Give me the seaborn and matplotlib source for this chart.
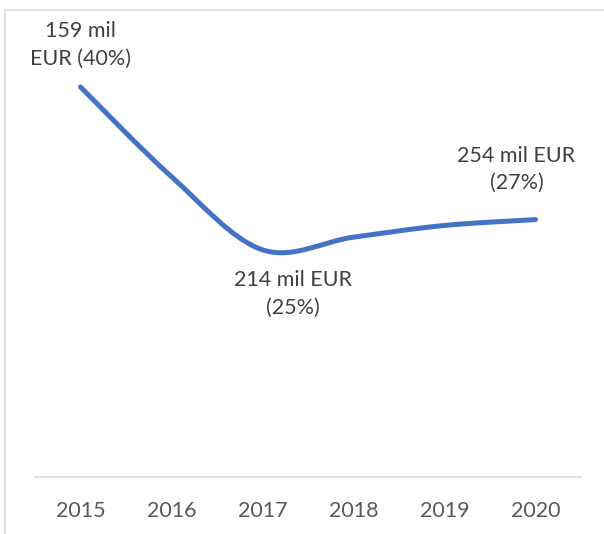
import numpy as np
import matplotlib
matplotlib.use('Agg')
import matplotlib.pyplot as plt
from matplotlib.path import Path
from matplotlib.patches import PathPatch, Rectangle
import seaborn as sns

years = ['2015', '2016', '2017', '2018', '2019', '2020']
share = [40.0, 30.8, 23.3, 24.6, 25.8, 26.4]

# labelled points: index, text, offset in pixels
labels = [
    (0, '159 mil\nEUR (40%)', (0, 42)),
    (2, '214 mil EUR\n(25%)', (30, -44)),
    (5, '254 mil EUR\n(27%)', (-19, 50)),
]

sns.set_theme(style='white')
plt.rcParams['font.family'] = ['Lato', 'DejaVu Sans']

fig = plt.figure(figsize=(6.04, 5.34), dpi=100)
ax = fig.add_axes([35 / 604, 57 / 534, 546 / 604, 468 / 534])

# Excel-style smoothed line (bezier through the data points)
x = np.arange(len(years), dtype=float)
y = np.array(share)
pts = np.column_stack([x, y])
ext = np.vstack([pts[0], pts, pts[-1]])
verts = [tuple(pts[0])]
codes = [Path.MOVETO]
for i in range(len(pts) - 1):
    p0, p1, p2, p3 = ext[i], ext[i + 1], ext[i + 2], ext[i + 3]
    c1 = p1 + (p2 - p0) / 6
    c2 = p2 - (p3 - p1) / 6
    verts += [tuple(c1), tuple(c2), tuple(p2)]
    codes += [Path.CURVE4] * 3
patch = PathPatch(Path(verts, codes), fill=False, edgecolor='#4472C4',
                  lw=3.6, capstyle='round', joinstyle='round')
ax.add_patch(patch)

ax.set_xlim(-0.5, len(years) - 0.5)
ax.set_ylim(0, 48)
ax.set_xticks(x)
ax.set_xticklabels(years, fontsize=15.5, color='#595959')
ax.set_yticks([])
ax.tick_params(axis='x', length=0, pad=17)
sns.despine(ax=ax, left=True, top=True, right=True)
ax.spines['bottom'].set_color('#D9D9D9')
ax.spines['bottom'].set_linewidth(1.2)

for i, txt, off in labels:
    ax.annotate(txt, (x[i], y[i]), xytext=off, textcoords='offset pixels',
                ha='center', va='center', fontsize=15.5, color='#404040',
                linespacing=1.45)

# chart area border
fig.patches.append(Rectangle((5 / 604, -0.05), 1.0, 1 - 10 / 534 + 0.05,
                             transform=fig.transFigure, fill=False,
                             edgecolor='#D9D9D9', lw=1.2))

fig.savefig('out.png', dpi=100)
